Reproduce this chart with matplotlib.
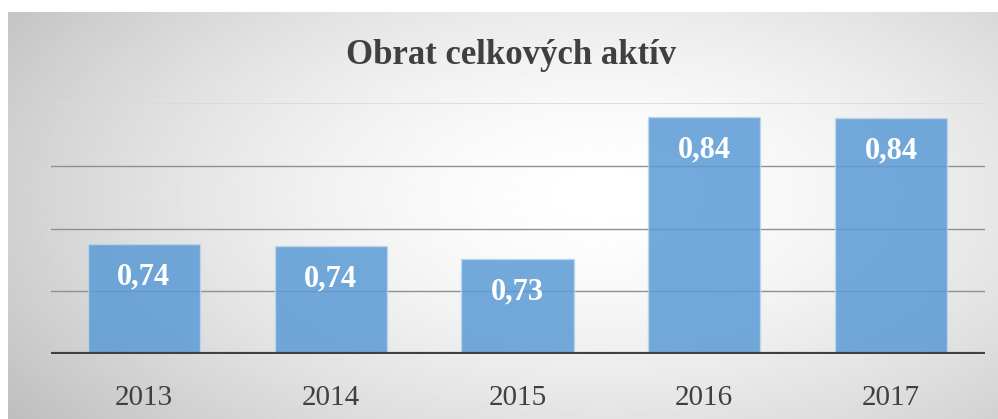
import numpy as np
import matplotlib
matplotlib.use("Agg")
import matplotlib.pyplot as plt

years = ["2013", "2014", "2015", "2016", "2017"]
values = [0.738, 0.736, 0.726, 0.839, 0.838]
title = "Obrat celkových aktív"

W, H = 998, 419
fig = plt.figure(figsize=(W / 100, H / 100), dpi=100)
fig.patch.set_facecolor("white")

# radial grey-to-white background of the chart area
bg = fig.add_axes([8 / W, 0, 1 - 8 / W, (H - 12) / H])
bg.set_axis_off()
yy, xx = np.mgrid[0:200, 0:500]
nx = (xx / 499.0 - 0.6) / 0.75
ny = (yy / 199.0 - 0.45) / 0.95
r = np.sqrt(nx ** 2 + ny ** 2)
shade = 1.0 - 0.26 * np.clip(r, 0, 1.2) ** 1.6
bg.imshow(shade, cmap="gray", vmin=0, vmax=1, aspect="auto",
          extent=[0, 1, 0, 1], interpolation="bilinear")
bg.set_xlim(0, 1)
bg.set_ylim(0, 1)

ax = fig.add_axes([50.5 / W, (H - 354) / H, 934 / W, (354 - 103) / H])
ax.set_facecolor("none")
x = np.arange(len(years))
bars = ax.bar(x, values, width=0.6, bottom=0, color="#5b9bd5", alpha=0.85,
              edgecolor="#bdd7ee", linewidth=1, zorder=3)
ax.set_xlim(-0.5, len(years) - 0.5)
ax.set_ylim(0.65, 0.85)

for gy in [0.70, 0.75, 0.80]:
    ax.axhline(gy, color="#909090", lw=1, zorder=1)
ax.axhline(0.85, color="#d9d9d9", lw=1.2, zorder=1)
ax.axhline(0.65, color="#404040", lw=3, zorder=4)

for xi, v in zip(x, values):
    ax.annotate(f"{v:.2f}".replace(".", ","), (xi, v), xytext=(0, -24),
                textcoords="offset points", ha="center", va="center",
                fontsize=22, fontweight="bold", color="white",
                family="Liberation Serif", zorder=5)

ax.set_yticks([])
ax.set_xticks(x)
ax.set_xticklabels(years, fontsize=21, family="Liberation Serif", color="#404040")
ax.tick_params(axis="x", length=0, pad=22)
for s in ax.spines.values():
    s.set_visible(False)

fig.text(511 / W, 1 - 56 / H, title, ha="center", va="center",
         fontsize=25, fontweight="bold", family="Liberation Serif", color="#404040")

fig.savefig("out.png", dpi=100)
